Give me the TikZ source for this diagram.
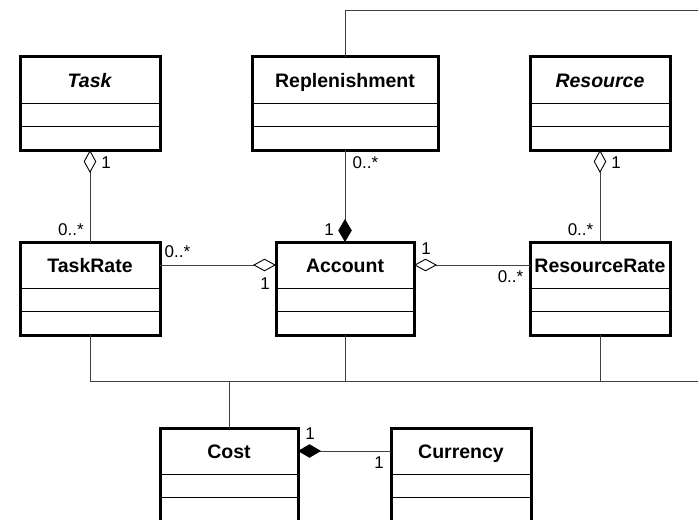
\documentclass[tikz,border=0pt]{standalone}
\usepackage{fontspec}
\setmainfont{Liberation Sans}
\usetikzlibrary{arrows.meta}

\begin{document}
\begin{tikzpicture}[x=1pt, y=-1pt,
    classbox/.style={draw, line width=3pt, minimum height=93pt, inner sep=0pt, outer sep=0pt},
    classname/.style={anchor=north, minimum height=46pt, inner sep=0pt, outer sep=0pt,
      text height=14pt, text depth=0pt, font=\fontsize{19.5}{23}\selectfont\bfseries},
    divider/.style={line width=0.8pt},
    assoc/.style={line width=0.9pt, draw=black!75},
    mult/.style={inner sep=0pt, font=\fontsize{17}{20}\selectfont},
    aggr/.tip={Diamond[open, length=23pt, width=12.5pt, color=black]},
    comp/.tip={Diamond[length=23pt, width=13.5pt, color=black]}]

    \useasboundingbox (0,0) rectangle (698,519);
    \clip (0,0) rectangle (698,519);

    % draw class boxes
    \node[classbox, minimum width=140pt] (task) at (90,103.5) {};
    \node[classbox, minimum width=186pt] (repl) at (345,103.5) {};
    \node[classbox, minimum width=140pt] (res) at (600,103.5) {};
    \node[classbox, minimum width=140pt] (taskrate) at (90,288.5) {};
    \node[classbox, minimum width=138pt] (account) at (345,288.5) {};
    \node[classbox, minimum width=140pt] (resrate) at (600,288.5) {};
    \node[classbox, minimum width=138pt] (cost) at (229,474.5) {};
    \node[classbox, minimum width=140pt] (curr) at (461,474.5) {};

    % draw class names
    \node[classname, minimum width=140pt] (task-name) at (task.north) {\textit{Task}};
    \node[classname, minimum width=186pt] (repl-name) at (repl.north) {Replenishment};
    \node[classname, minimum width=140pt] (res-name) at (res.north) {\textit{Resource}};
    \node[classname, minimum width=140pt] (taskrate-name) at (taskrate.north) {TaskRate};
    \node[classname, minimum width=138pt] (account-name) at (account.north) {Account};
    \node[classname, minimum width=140pt] (resrate-name) at (resrate.north) {ResourceRate};
    \node[classname, minimum width=138pt] (cost-name) at (cost.north) {Cost};
    \node[classname, minimum width=140pt] (curr-name) at (curr.north) {Currency};

    % draw compartment lines
    \foreach \c in {task,repl,res,taskrate,account,resrate,cost,curr} {
      \draw[divider] ([yshift=-46pt]\c.north west) -- ([yshift=-46pt]\c.north east);
      \draw[divider] ([yshift=-69pt]\c.north west) -- ([yshift=-69pt]\c.north east);
    }

    % draw aggregations
    \draw[assoc, aggr-] (task.south) -- (taskrate.north)
      node[mult, at start, xshift=16pt, yshift=-13pt] {1}
      node[mult, at end, xshift=-19pt, yshift=12pt] {0..*};
    \draw[assoc, aggr-] (res.south) -- (resrate.north)
      node[mult, at start, xshift=16pt, yshift=-13pt] {1}
      node[mult, at end, xshift=-19.5pt, yshift=12pt] {0..*};
    \draw[assoc, aggr-] (account-name.west) -- (taskrate-name.east)
      node[mult, at start, xshift=-11pt, yshift=-19pt] {1}
      node[mult, at end, xshift=17.5pt, yshift=13pt] {0..*};
    \draw[assoc, aggr-] (account-name.east) -- (resrate-name.west)
      node[mult, at start, xshift=12pt, yshift=16pt] {1}
      node[mult, at end, xshift=-19.5pt, yshift=-12pt] {0..*};

    % draw compositions
    \draw[assoc, comp-] (account.north) -- (repl.south)
      node[mult, at start, xshift=-16pt, yshift=12pt] {1}
      node[mult, at end, xshift=20.5pt, yshift=-13pt] {0..*};
    \draw[assoc, comp-] (cost-name.east) -- (curr-name.west)
      node[mult, at start, xshift=12pt, yshift=17.5pt] {1}
      node[mult, at end, xshift=-12pt, yshift=-12pt] {1};

    % draw lines running off the page
    \coordinate (topright) at (700,10);
    \coordinate (busright) at (700,381);
    \draw[assoc] (repl.north) |- (topright);
    \draw[assoc] (taskrate.south) |- (busright);
    \draw[assoc] (account.south) -- (account.south |- busright);
    \draw[assoc] (resrate.south) -- (resrate.south |- busright);
    \draw[assoc] (cost.north) -- (cost.north |- busright);

\end{tikzpicture}
\end{document}
